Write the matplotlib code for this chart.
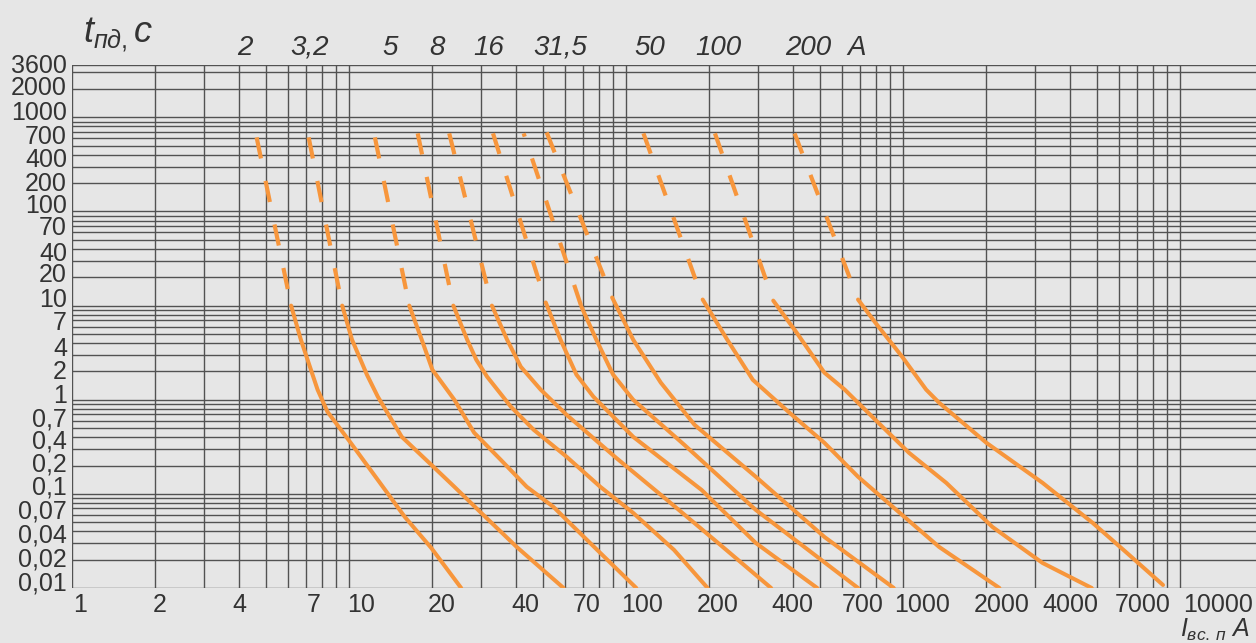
import matplotlib
matplotlib.use('Agg')
import matplotlib.pyplot as plt
from matplotlib.transforms import ScaledTranslation, blended_transform_factory

plt.rcParams['font.family'] = ['Liberation Sans', 'DejaVu Sans']
plt.rcParams['mathtext.fontset'] = 'custom'
plt.rcParams['mathtext.it'] = 'Liberation Sans:italic'
plt.rcParams['mathtext.rm'] = 'Liberation Sans'
plt.rcParams['lines.scale_dashes'] = False

# ---------------- data (current in A, pre-arc time in s) ----------------
# first point of every curve = top of the dashed part, second = start of solid part
c1_I = [4.64, 6.18, 6.70, 7.70, 8.36, 10.08, 12.7, 15.9, 19.8, 25.4]
c1_t = [613, 10, 4.35, 1.28, 0.745, 0.357, 0.141, 0.0569, 0.0267, 0.01]
c2_I = [7.15, 9.45, 10.25, 11.6, 12.7, 15.5, 19.8, 24.0, 30.0, 40.3, 59.5]
c2_t = [613, 10, 4.35, 1.85, 1.08, 0.404, 0.204, 0.119, 0.0628, 0.0273, 0.01]
c3_I = [12.4, 16.5, 18.3, 20.0, 24.0, 28.3, 35.3, 43.8, 54.7, 61.0, 80.7, 108.9]
c3_t = [613, 10, 4.35, 2.08, 1.0, 0.446, 0.230, 0.119, 0.0727, 0.0529, 0.0236, 0.01]
c4_I = [17.7, 23.8, 26.7, 28.8, 31.5, 38.4, 46.4, 61.0, 80.7, 106.1, 149, 197]
c4_t = [676, 10, 4.35, 2.66, 1.76, 0.843, 0.48, 0.248, 0.119, 0.0628, 0.0254, 0.01]
c5_I = [23.0, 32.8, 37.2, 41.7, 49.2, 61.0, 92.1, 140.5, 214.9, 334]
c5_t = [676, 10, 4.35, 2.24, 1.28, 0.692, 0.2415, 0.0863, 0.0301, 0.01]
c6_I = [33.1, 51.3, 58.0, 66.2, 76.2, 106.1, 187.5, 294, 490]
c6_t = [676, 10.8, 4.35, 1.85, 1.08, 0.404, 0.110, 0.0301, 0.01]
c7_I = [42.7, 69.0, 78.1, 89.8, 106.1, 162.3, 294, 688]
c7_t = [676, 9.76, 4.35, 1.85, 1.0, 0.332, 0.0676, 0.01]
c8_I = [51.7, 89.1, 106.1, 133.5, 176.7, 294, 520, 926]
c8_t = [692, 12.2, 4.35, 1.52, 0.542, 0.152, 0.0349, 0.01]
c9_I = [115.6, 189.1, 231.9, 286.8, 389.3, 520, 688, 1350, 2228]
c9_t = [676, 11.6, 4.35, 1.63, 0.727, 0.349, 0.152, 0.0273, 0.01]
c10_I = [209.4, 340, 413, 520, 616, 794, 1051, 1432, 2101, 3189, 4800]
c10_t = [676, 11.3, 5.16, 1.94, 1.28, 0.613, 0.273, 0.131, 0.0446, 0.01845, 0.01]
c11_I = [406, 688, 794, 992, 1212, 1350, 1999, 3189, 4840, 6427, 8679]
c11_t = [676, 11.6, 6.6, 2.87, 1.28, 0.929, 0.349, 0.131, 0.0491, 0.0236, 0.01076]

curves = [(c1_I, c1_t), (c2_I, c2_t), (c3_I, c3_t), (c4_I, c4_t), (c5_I, c5_t),
          (c6_I, c6_t), (c7_I, c7_t), (c8_I, c8_t), (c9_I, c9_t), (c10_I, c10_t),
          (c11_I, c11_t)]

x_tick_values = [1, 2, 4, 7, 10, 20, 40, 70, 100, 200, 400, 700, 1000, 2000, 4000, 7000, 10000]
x_tick_labels = ['1', '2', '4', '7', '10', '20', '40', '70', '100', '200', '400', '700',
                 '1000', '2000', '4000', '7000', '10000']
y_tick_values = [3600, 2000, 1000, 700, 400, 200, 100, 70, 40, 20, 10, 7, 4, 2, 1,
                 0.7, 0.4, 0.2, 0.1, 0.07, 0.04, 0.02, 0.01]
y_tick_labels = ['3600', '2000', '1000', '700', '400', '200', '100', '70', '40', '20', '10',
                 '7', '4', '2', '1', '0,7', '0,4', '0,2', '0,1', '0,07', '0,04', '0,02', '0,01']
top_labels = ['2', '3,2', '5', '8', '16', '31,5', '50', '100', '200', 'A']
top_label_I = [4.21, 7.23, 14.06, 20.8, 31.8, 57.8, 122, 215, 454, 682]

# ---------------- styles ----------------
BG = '#e6e6e6'
GRID = '#525252'
ORANGE = '#f7963c'
TXT = '#333333'
# label nudges in pixels (x: +right, y: +down) to mimic the hand-set lettering
x_label_dx = [8, 4, 1, 8, 12, 9, 10, 4, 16, 8, 0, 3, 19, 15, 1, 6, 38]
y_label_dy = [-1, -3, -6.5, 3, 3, -1.5, -7, 0, 2.6, -4, -8, 1, 4, -1, -5.5,
              3, 2.6, -3, -8, 1.5, 2.6, -2.5, -7]
dash_offsets = [0, 0, 0, 0, 0, 0, 13, 0, 0, 0, 0]

fig = plt.figure(figsize=(12.56, 6.43), dpi=100, facecolor=BG)
ax = fig.add_axes([72 / 1256, 1 - 588 / 643, 1 - 72 / 1256, (588 - 65) / 643])
ax.set_facecolor(BG)
ax.set_xscale('log')
ax.set_yscale('log')
ax.set_xlim(1, 18800)
ax.set_ylim(0.01, 3600)
ax.minorticks_off()
ax.set_xticks([])
ax.set_yticks([])
for s in ax.spines.values():
    s.set_visible(False)

# graph-paper grid
xg = [m * 10 ** k for k in range(4) for m in range(1, 10)] + [10000]
yg = [m * 10.0 ** k for k in range(-2, 4) for m in range(1, 10) if m * 10.0 ** k <= 3600] + [3600]
ax.vlines(xg, 0.01, 3600, colors=GRID, lw=1.0, zorder=1)
for y in yg:
    ax.axhline(y, color=GRID, lw=1.0, zorder=1)

# curves
for (I, t), off in zip(curves, dash_offsets):
    ax.plot(I[:2], t[:2], color=ORANGE, lw=3.0, linestyle=(off, (15.5, 16.5)),
            dash_capstyle='butt', zorder=3)
    ax.plot(I[1:], t[1:], color=ORANGE, lw=2.9, solid_capstyle='round',
            solid_joinstyle='round', zorder=3)

px = 1 / 100.0
bx = blended_transform_factory(ax.transData, ax.transAxes)
by = blended_transform_factory(ax.transAxes, ax.transData)

for v, lab, dx in zip(x_tick_values, x_tick_labels, x_label_dx):
    ax.text(v, 0, lab, transform=bx + ScaledTranslation(dx * px, -24 * px, fig.dpi_scale_trans),
            ha='center', va='baseline', fontsize=18, color=TXT, clip_on=False)
for v, lab, dy in zip(y_tick_values, y_tick_labels, y_label_dy):
    ax.text(0, v, lab, transform=by + ScaledTranslation(-5 * px, -(dy + 9) * px, fig.dpi_scale_trans),
            ha='right', va='baseline', fontsize=18, color=TXT, clip_on=False)
for v, lab in zip(top_label_I, top_labels):
    ax.text(v, 1, lab, transform=bx + ScaledTranslation(0, 10 * px, fig.dpi_scale_trans),
            ha='center', va='baseline', fontsize=20, style='italic', color=TXT, clip_on=False)

fig.text(83 / 1256, 1 - 42 / 643, r'$t_{пд,}с$', fontsize=26, color=TXT, va='baseline', ha='left')
fig.text(1180 / 1256, 1 - 637 / 643, r'$I_{вс.\,п}\ A$', fontsize=18, color=TXT, va='baseline', ha='left')

fig.savefig('out.png', dpi=100, facecolor=BG)
